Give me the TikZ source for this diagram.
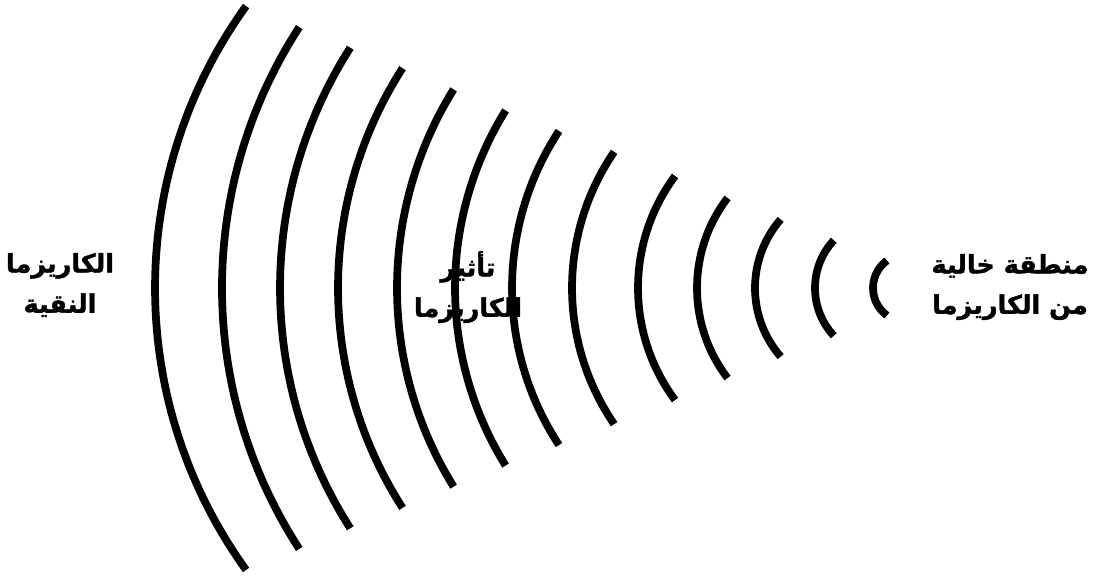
\documentclass[tikz,border=0pt]{standalone}
\usepackage{fontspec}
\newfontfamily\arabicfont[Script=Arabic, BoldFont={DejaVu Sans Bold}, BoldFeatures={FakeBold=1.5}]{DejaVu Sans}
\TeXXeTstate=1
\usetikzlibrary{positioning}

\begin{document}
\begin{tikzpicture}[
  x=0.02cm, y=0.02cm,
  wave/.style={line width=4.4pt, black},
  lbl/.style={font=\arabicfont\bfseries\fontsize{14.5}{23}\selectfont, align=center, inner sep=0pt},
]
  \useasboundingbox (0,0) rectangle (1097,576);

  % Labels
  \node[lbl] (pure)   at (60,291)   {\beginR الكاريزما\endR\\\beginR النقية\endR};
  \node[lbl] (effect) at (468,289)  {\beginR تأثير\endR\\\beginR الكاريزما\endR};
  \node[lbl] (free)   at (1010,289) {\beginR منطقة خالية\endR\\\beginR من الكاريزما\endR};

  % Waves: leftmost x / radius / half angle
  \foreach \xl/\r/\t in {155/482/35.8, 222/479/33, 280/446/32.6, 338/407/32.7,
                         397/377/31.8, 455/337/31.8, 512/286/33.3, 572/241/34.4,
                         638/188/36.6, 697/148/37.5, 755/104.6/41, 815/70/43, 873/34/54}
    \draw[wave] (\xl,288) ++({\r-\r*cos(\t)},{\r*sin(\t)})
      arc[start angle=180-\t, end angle=180+\t, radius=\r];
\end{tikzpicture}
\end{document}
